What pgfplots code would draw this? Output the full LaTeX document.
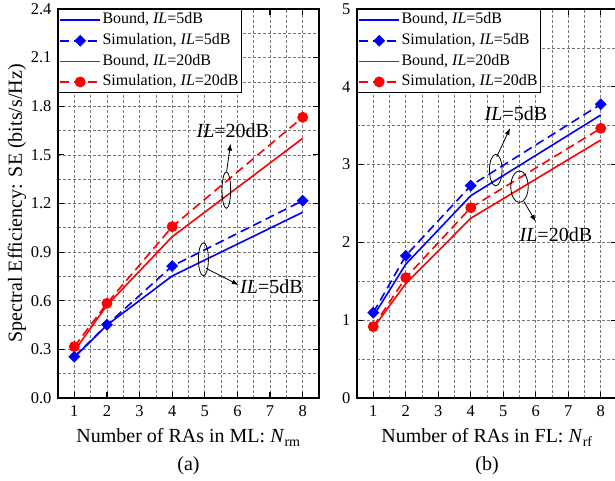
\documentclass[border=0pt]{standalone}
\usepackage{fontspec}
\setmainfont{Liberation Serif}
\usepackage{pgfplots}
\pgfplotsset{compat=1.18}
\usetikzlibrary{arrows.meta}

\definecolor{myblue}{RGB}{0,0,255}
\definecolor{myred}{RGB}{255,0,0}
\definecolor{gridgray}{RGB}{120,120,120}

\newcommand{\bigf}{\fontsize{20}{24}\selectfont}
\newcommand{\tickf}{\fontsize{16.5}{19}\selectfont}
\newcommand{\legf}{\fontsize{16}{19}\selectfont}

\pgfplotsset{
 mystyle/.style={
  scale only axis, height=389pt,
  xmin=0.5, xmax=8.5, xtick={1,...,8},
  minor x tick num=1, minor y tick num=1,
  grid=both,
  major grid style={gridgray, dash pattern=on 3pt off 2pt, line width=0.65pt},
  minor grid style={gridgray, dash pattern=on 3pt off 2pt, line width=0.65pt},
  tick align=inside, tick pos=both,
  major tick length=6pt, minor tick length=0pt,
  tick style={black, line width=1.2pt},
  axis line style={line width=1.2pt},
  label style={font=\bigf},
  ticklabel style={font=\tickf},
  /pgf/number format/assume math mode=true,
  xticklabel style={anchor=base, yshift=-18.7pt},
  yticklabel style={xshift=-3pt},
  xlabel style={at={(axis description cs:0.5,0)}, anchor=base, yshift=-45pt},
  ylabel style={at={(axis description cs:-0.138,0.5)}, anchor=base, rotate=0},
  legend cell align=left,
  legend style={at={(0,1)}, anchor=north west, draw=black, line width=0.8pt, fill=white,
    inner sep=1pt, row sep=1.1pt,
    font=\legf,
    nodes={inner sep=1.5pt, text height=12pt, text depth=4.5pt}},
  legend image code/.code={\draw[mark repeat=2, mark phase=2, #1] plot coordinates {(0pt,0pt) (20pt,0pt) (40pt,0pt)};},
  bnd/.style={line width=1.6pt, solid, no markers},
  sim/.style={line width=1.6pt, dash pattern=on 9pt off 5pt},
 }
}

\begin{document}
\begin{tikzpicture}
% ---------------- (a) ----------------
\begin{axis}[mystyle, name=A, width=261pt, at={(0pt,0pt)}, anchor=south west,
  ymin=0, ymax=2.4, ytick={0,0.3,...,2.41},
  yticklabel style={/pgf/number format/.cd, fixed, fixed zerofill, precision=1},
  xlabel={Number of RAs in ML: \textit{N}\textsubscript{rm}},
  ylabel={Spectral Efficiency: SE (bits/s/Hz)}]
\addplot[myblue, bnd] coordinates {(1,0.25) (2,0.45) (4,0.753) (8,1.146)};
\addlegendentry{Bound, \textit{IL}=5dB}
\addplot[myblue, sim, mark=square*, mark size=3.4pt, mark options={solid, rotate=45}] coordinates {(1,0.255) (2,0.452) (4,0.814) (8,1.217)};
\addlegendentry{Simulation, \textit{IL}=5dB}
\addplot[myred, bnd] coordinates {(1,0.29) (2,0.572) (4,0.995) (8,1.602)};
\addlegendentry{Bound, \textit{IL}=20dB}
\addplot[myred, sim, mark=*, mark size=4.6pt, mark options={solid}] coordinates {(1,0.317) (2,0.584) (4,1.057) (8,1.732)};
\addlegendentry{Simulation, \textit{IL}=20dB}
% annotations
\draw[line width=0.8pt] (axis cs:5.66,1.283) ellipse [x radius=4.3pt, y radius=18.3pt];
\draw[line width=0.8pt, -{Latex[length=7pt,width=5pt]}] (axis cs:5.67,1.40) -- (axis cs:5.79,1.57);
\node[anchor=base, font=\bigf, inner sep=0pt] at (axis cs:5.86,1.610) {\textit{IL}=20dB};
\draw[line width=0.8pt] (axis cs:4.957,0.856) ellipse [x radius=5pt, y radius=16.5pt];
\draw[line width=0.8pt, -{Latex[length=7pt,width=5pt]}] (axis cs:5.04,0.80) -- (axis cs:6.04,0.697);
\node[anchor=base west, font=\bigf, inner sep=0pt] at (axis cs:6.08,0.646) {\textit{IL}=5dB};
\end{axis}
\node[anchor=base, font=\bigf] at ([yshift=-73pt]A.south) {(a)};
% ---------------- (b) ----------------
\begin{axis}[mystyle, name=B, width=260pt, at={(299pt,0pt)}, anchor=south west,
  ymin=0, ymax=5, ytick={0,1,...,5},
  xlabel={Number of RAs in FL: \textit{N}\textsubscript{rf}}]
\addplot[myblue, bnd] coordinates {(1,1.05) (2,1.72) (4,2.60) (8,3.637)};
\addlegendentry{Bound, \textit{IL}=5dB}
\addplot[myblue, sim, mark=square*, mark size=3.4pt, mark options={solid, rotate=45}] coordinates {(1,1.097) (2,1.829) (4,2.729) (8,3.775)};
\addlegendentry{Simulation, \textit{IL}=5dB}
\addplot[myred, bnd] coordinates {(1,0.90) (2,1.47) (4,2.31) (8,3.316)};
\addlegendentry{Bound, \textit{IL}=20dB}
\addplot[myred, sim, mark=*, mark size=4.6pt, mark options={solid}] coordinates {(1,0.917) (2,1.546) (4,2.446) (8,3.466)};
\addlegendentry{Simulation, \textit{IL}=20dB}
\draw[line width=0.8pt] (axis cs:4.77,2.93) ellipse [x radius=6.3pt, y radius=15.8pt];
\draw[line width=0.8pt, -{Latex[length=7pt,width=5pt]}] (axis cs:4.80,3.10) -- (axis cs:5.21,3.47);
\node[anchor=base, font=\bigf, inner sep=0pt] at (axis cs:5.39,3.573) {\textit{IL}=5dB};
\draw[line width=0.8pt] (axis cs:5.50,2.716) ellipse [x radius=8.7pt, y radius=15.8pt];
\draw[line width=0.8pt, -{Latex[length=7pt,width=5pt]}] (axis cs:5.64,2.523) -- (axis cs:6.0,2.266);
\node[anchor=base, font=\bigf, inner sep=0pt] at (axis cs:6.62,2.009) {\textit{IL}=20dB};
\end{axis}
\node[anchor=base, font=\bigf] at ([yshift=-73pt]B.south) {(b)};
\pgfresetboundingbox
\path[use as bounding box] (-58pt,-83pt) rectangle (557pt,398pt);
\end{tikzpicture}
\end{document}
